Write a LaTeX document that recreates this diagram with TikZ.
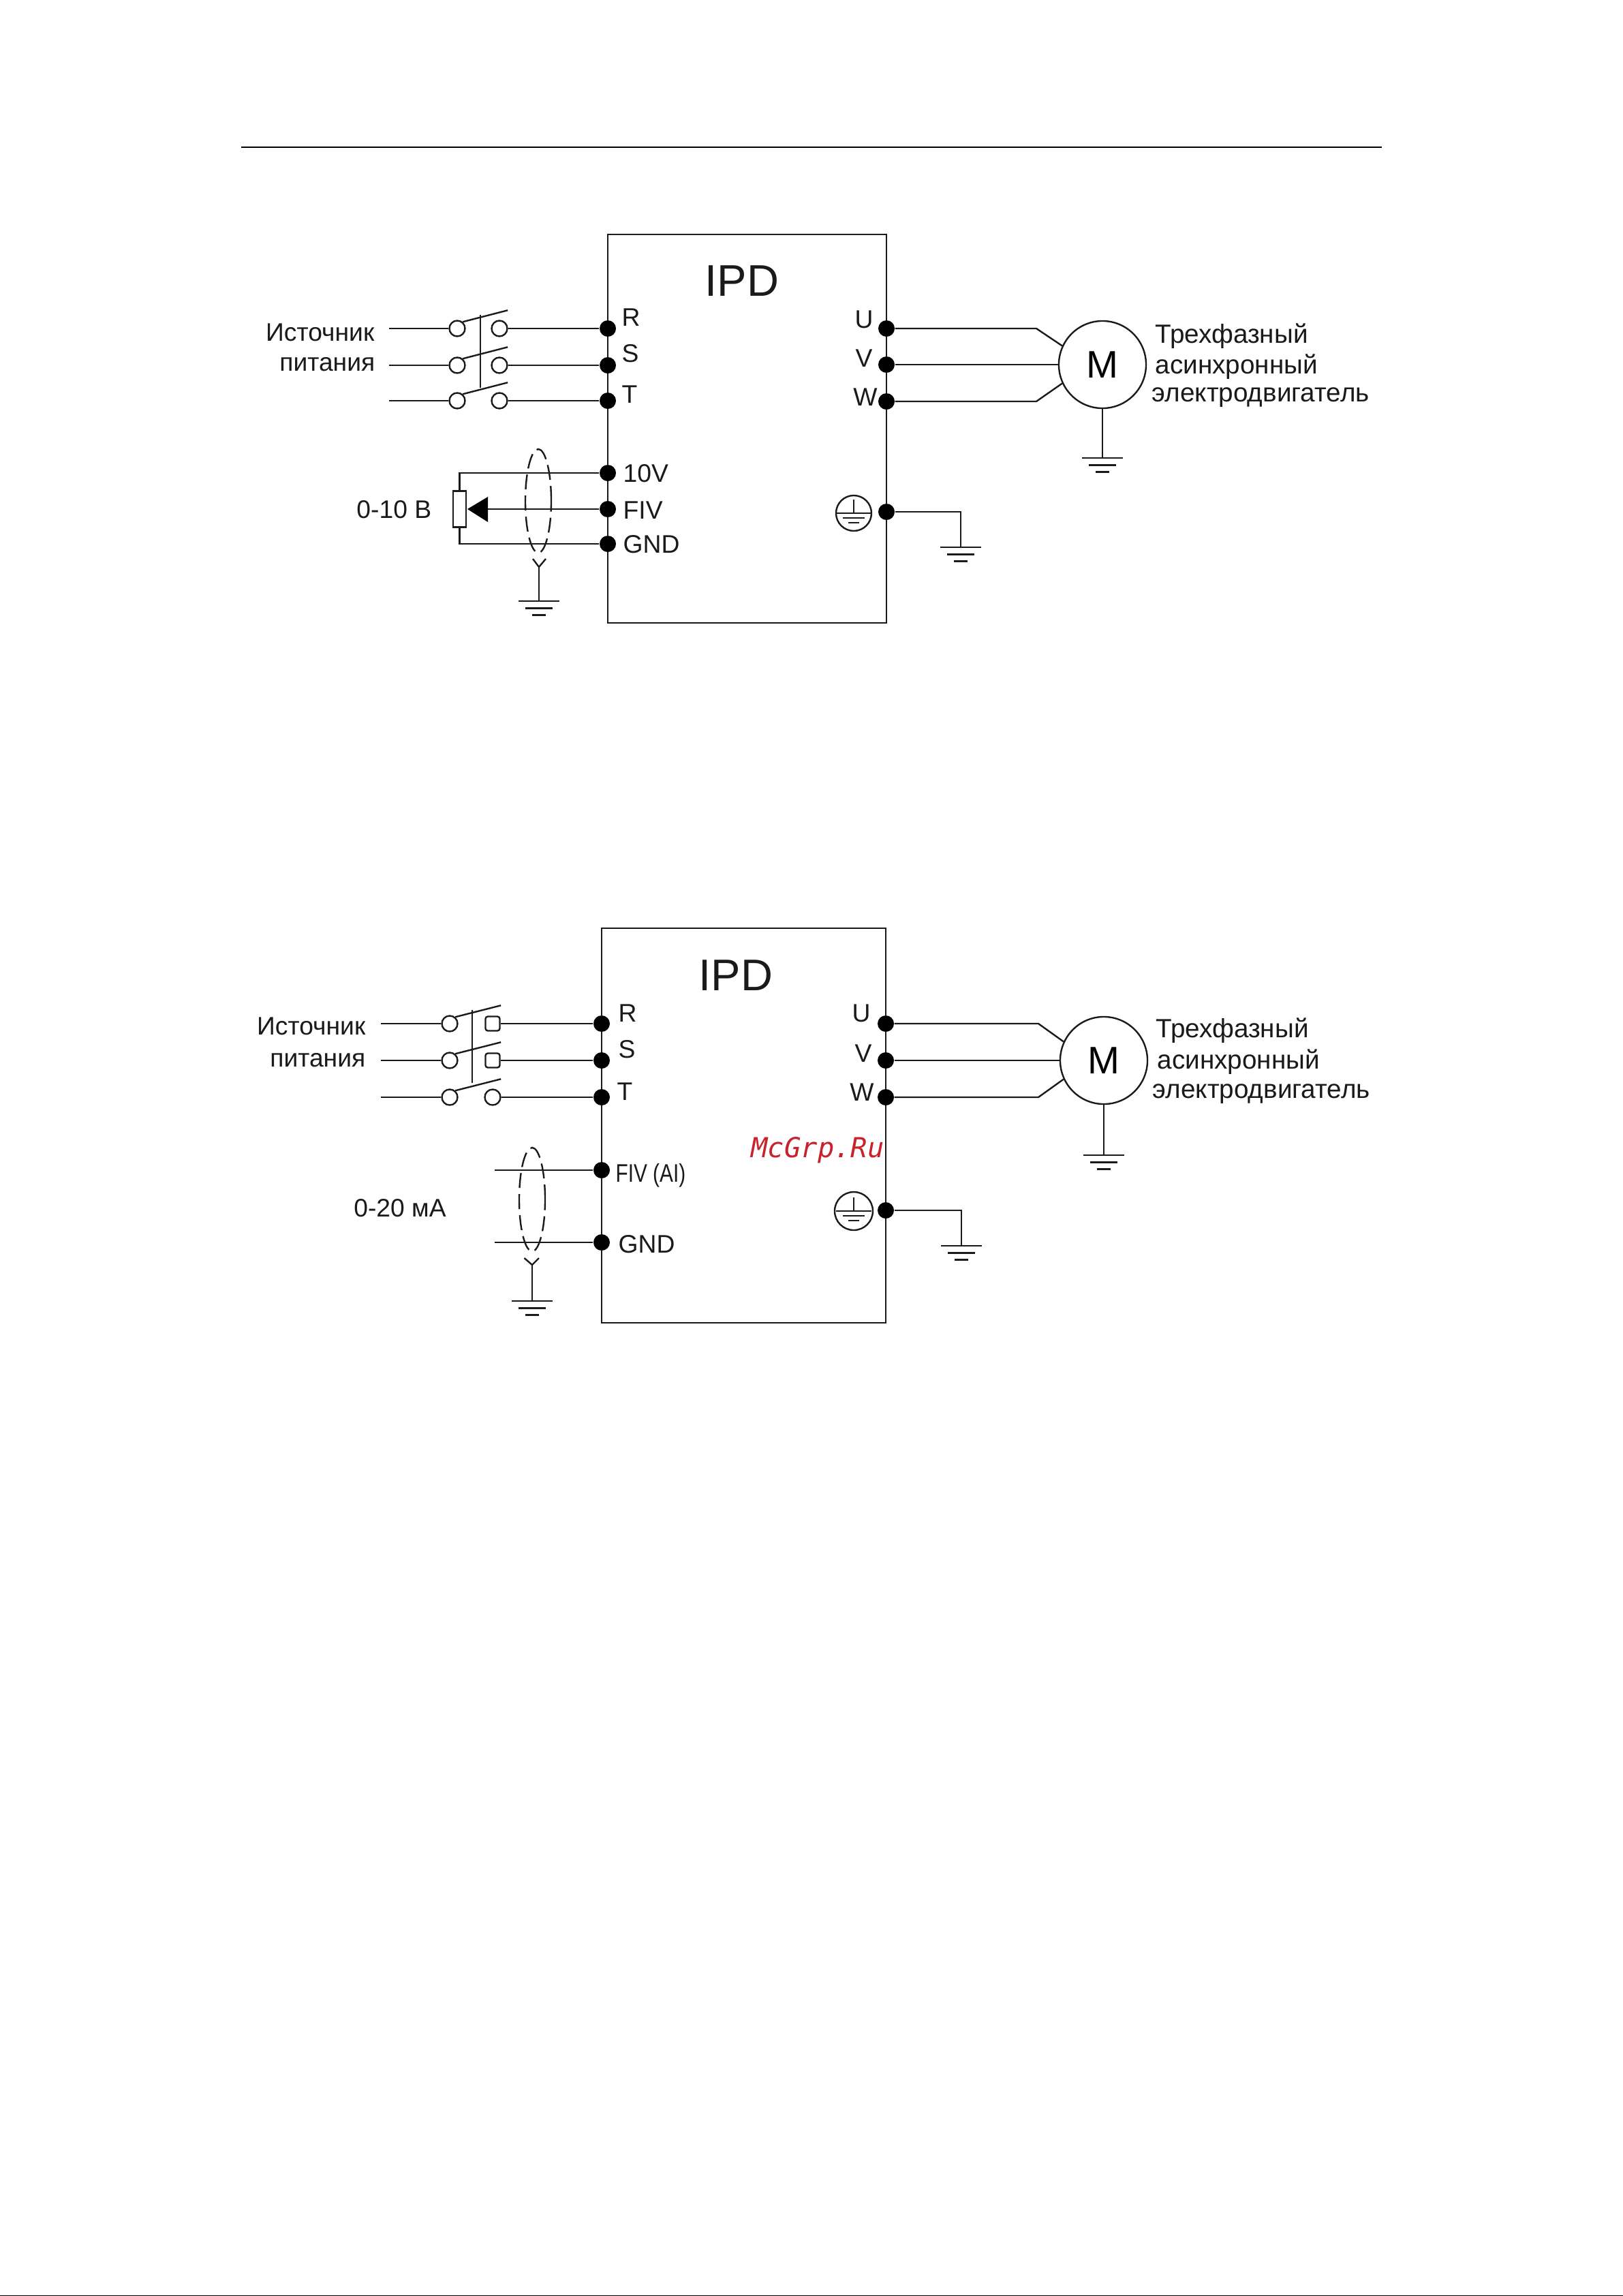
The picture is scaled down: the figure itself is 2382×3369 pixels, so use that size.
\documentclass[tikz,border=0pt]{standalone}
\usepackage{fontspec}
\setmainfont{Liberation Sans}
\newfontfamily\markfont{DejaVu Sans Mono}
\usetikzlibrary{calc,shapes.geometric}
\definecolor{inkgray}{HTML}{1A1A1A}
\definecolor{markred}{HTML}{C8232D}
\tikzset{
	wire/.style={draw=inkgray,line width=0.68pt},
	term/.style={circle,fill=black,inner sep=0pt,minimum size=0.24cm},
	contact/.style={circle,draw=inkgray,line width=0.68pt,fill=white,inner sep=0pt,minimum size=0.23cm},
	contactsq/.style={rectangle,rounded corners=1pt,draw=inkgray,line width=0.68pt,fill=white,inner sep=0pt,minimum size=0.21cm},
	motor/.style={circle,draw=inkgray,line width=0.68pt,inner sep=0pt,minimum size=1.28cm,font=\fontsize{16}{18}\selectfont},
	lab/.style={inner sep=0pt,text=inkgray,font=\fontsize{10.6}{12}\selectfont},
	motlab/.style={inner sep=0pt,text=inkgray,font=\fontsize{11}{13}\selectfont},
	title/.style={inner sep=0pt,text=inkgray,font=\fontsize{18.5}{22}\selectfont},
	shield/.style={ellipse,draw=inkgray,line width=0.68pt,dash pattern=on 0.22cm off 0.09cm,inner sep=0pt}
}
\def\ground(#1)% Syntax: (point at the top bar)
	{ \draw[wire] ($(#1)+(-30,0)$) -- ($(#1)+(30,0)$);
	  \draw[wire] ($(#1)+(-20,10.5)$) -- ($(#1)+(20,10.5)$);
	  \draw[wire] ($(#1)+(-10,20.5)$) -- ($(#1)+(10,20.5)$); }
\def\earthmark(#1:#2)% Syntax: (center:radius)
	{ \draw[wire] (#1) circle (#2);
	  \draw[wire] ($(#1)+(0,-20)$) -- (#1);
	  \draw[wire] ($(#1)+(-26,0)$) -- ($(#1)+(26,0)$);
	  \draw[wire] ($(#1)+(-16,7)$) -- ($(#1)+(16,7)$);
	  \draw[wire] ($(#1)+(-8,14)$) -- ($(#1)+(8,14)$); }
\begin{document}
\begin{tikzpicture}[x=0.01cm,y=-0.01cm]
	\useasboundingbox (0,0) rectangle (2382,3369);

	% page rules
	\coordinate (ruleL) at (354,216);
	\coordinate (ruleR) at (2028,216);
	\draw[draw=black,line width=0.55pt] (ruleL) -- (ruleR);
	\coordinate (edgeL) at (0,3368.6);
	\coordinate (edgeR) at (2382,3368.6);
	\draw[draw=black,line width=0.25pt] (edgeL) -- (edgeR);

	% ---- upper picture ----
	\draw[wire] (892,344) rectangle (1301,914);
	\node[title] (ipdA) at (1089,412) {IPD};

	\foreach \n/\y in {R/482,S/536,T/588,A/694,F/747,G/798}
		\node[term] (l\n A) at (892,\y) {};
	\foreach \n/\y in {U/482,V/535,W/589,E/751}
		\node[term] (r\n A) at (1301,\y) {};

	\node[lab,anchor=west] (tRA) at (912,466) {R};
	\node[lab,anchor=west] (tSA) at (912,519) {S};
	\node[lab,anchor=west] (tTA) at (912,579) {T};
	\node[lab,anchor=west] (t10A) at (914,695) {10V};
	\node[lab,anchor=west] (tFA) at (914,749) {FIV};
	\node[lab,anchor=west] (tGA) at (914,799) {GND};
	\node[lab] (tUA) at (1268,469) {U};
	\node[lab] (tVA) at (1268,526) {V};
	\node[lab] (tWA) at (1270,583) {W};

	% switch
	\node[lab,anchor=east] (srcA) at (550,488) {Источник};
	\node[lab,anchor=east] (srcB) at (551,535) {питания};
	\foreach \n/\y in {R/482,S/536,T/588}{
		\coordinate (in\n A) at (571,\y);
		\node[contact] (c\n A) at (671,\y) {};
		\node[contact] (d\n A) at (733,\y) {};
		\draw[wire] (in\n A) -- (c\n A);
		\draw[wire] (d\n A) -- (l\n A);
		\draw[wire] (c\n A.50) -- ++(66,-17);
	}
	\coordinate (tieAt) at (705,462);
	\coordinate (tieAb) at (705,569);
	\draw[wire] (tieAt) -- (tieAb);

	% potentiometer
	\node[draw=inkgray,line width=0.68pt,fill=white,inner sep=0pt,minimum width=0.19cm,minimum height=0.53cm] (potA) at (674.5,747) {};
	\node[lab,anchor=east] (rngA) at (634,748) {0-10 В};
	\coordinate (potAt) at (674.5,694);
	\coordinate (potAb) at (674.5,798);
	\coordinate (tipA) at (686,747);
	\coordinate (baseA) at (716,747);
	\draw[wire] (potA.north) -- (potAt) -- (lAA);
	\draw[wire] (potA.south) -- (potAb) -- (lGA);
	\draw[wire] (baseA) -- (lFA);
	\fill[black] (tipA) -- ($(baseA)+(0,-18)$) -- ($(baseA)+(0,19)$) -- cycle;

	% shield
	\node[shield,minimum width=0.38cm,minimum height=1.52cm] (shA) at (790,735) {};
	\coordinate (forkA) at (791,832);
	\coordinate (gndA) at (791,882);
	\draw[wire] (782,820) -- (forkA) -- (801,820);
	\draw[wire] (forkA) -- (gndA);
	\ground(gndA)

	% motor
	\node[motor] (motA) at (1618,535) {M};
	\coordinate (kneeUA) at (1521,482);
	\coordinate (kneeWA) at (1521,589);
	\draw[wire] (rUA) -- (kneeUA) -- (motA.155);
	\draw[wire] (rVA) -- (motA.west);
	\draw[wire] (rWA) -- (kneeWA) -- (motA.205);
	\coordinate (gndB) at (1618,672);
	\draw[wire] (motA.south) -- (gndB);
	\ground(gndB)
	\node[motlab,anchor=west] (mtA) at (1695,493) {Трехфазный};
	\node[motlab,anchor=west] (mtB) at (1695,538) {асинхронный};
	\node[motlab,anchor=west] (mtC) at (1690,583) {электродвигатель};

	% earth
	\coordinate (emA) at (1253,753);
	\earthmark(emA:26)
	\coordinate (kneeEA) at (1410,751);
	\coordinate (gndC) at (1410,803);
	\draw[wire] (rEA) -- (kneeEA) -- (gndC);
	\ground(gndC)

	% ---- lower picture ----
	\draw[wire] (883,1362) rectangle (1300,1941);
	\node[title] (ipdB) at (1080,1431) {IPD};

	\foreach \n/\y in {R/1502,S/1556,T/1610,F/1717,G/1823}
		\node[term] (l\n B) at (883,\y) {};
	\foreach \n/\y in {U/1502,V/1556,W/1610,E/1776}
		\node[term] (r\n B) at (1300,\y) {};

	\node[lab,anchor=west] (tRB) at (907,1487) {R};
	\node[lab,anchor=west] (tSB) at (907,1540) {S};
	\node[lab,anchor=west] (tTB) at (905,1602) {T};
	\node[lab,anchor=west,xscale=0.8] (tFB) at (903,1725) {FIV (AI)};
	\node[lab,anchor=west] (tGB) at (907,1826) {GND};
	\node[lab] (tUB) at (1264,1487) {U};
	\node[lab] (tVB) at (1267,1546) {V};
	\node[lab] (tWB) at (1265,1603) {W};

	% switch
	\node[lab,anchor=east] (srcC) at (537,1506) {Источник};
	\node[lab,anchor=east] (srcD) at (537,1556) {питания};
	\foreach \n/\y/\k in {R/1502/contactsq,S/1556/contactsq,T/1610/contact}{
		\coordinate (in\n B) at (559,\y);
		\node[contact] (c\n B) at (660,\y) {};
		\node[\k] (d\n B) at (723,\y) {};
		\draw[wire] (in\n B) -- (c\n B);
		\draw[wire] (d\n B) -- (l\n B);
		\draw[wire] (c\n B.50) -- ++(67,-17);
	}
	\coordinate (tieBt) at (693,1482);
	\coordinate (tieBb) at (693,1589);
	\draw[wire] (tieBt) -- (tieBb);

	% current input
	\coordinate (inFB) at (726,1717);
	\coordinate (inGB) at (726,1823);
	\draw[wire] (inFB) -- (lFB);
	\draw[wire] (inGB) -- (lGB);
	\node[lab] (rngB) at (587,1773) {0-20 мА};

	% shield
	\node[shield,minimum width=0.38cm,minimum height=1.52cm] (shB) at (781,1760) {};
	\coordinate (forkB) at (781,1856);
	\coordinate (gndD) at (781,1909);
	\draw[wire] (769.5,1846) -- (forkB) -- (791,1846);
	\draw[wire] (forkB) -- (gndD);
	\ground(gndD)

	% motor
	\node[motor] (motB) at (1620,1556) {M};
	\coordinate (kneeUB) at (1524,1502);
	\coordinate (kneeWB) at (1524,1610);
	\draw[wire] (rUB) -- (kneeUB) -- (motB.155);
	\draw[wire] (rVB) -- (motB.west);
	\draw[wire] (rWB) -- (kneeWB) -- (motB.205);
	\coordinate (gndE) at (1620,1695);
	\draw[wire] (motB.south) -- (gndE);
	\ground(gndE)
	\node[motlab,anchor=west] (mtD) at (1696,1512) {Трехфазный};
	\node[motlab,anchor=west] (mtE) at (1698,1558) {асинхронный};
	\node[motlab,anchor=west] (mtF) at (1691,1605) {электродвигатель};

	% earth
	\coordinate (emB) at (1253,1777);
	\earthmark(emB:28)
	\coordinate (kneeEB) at (1411,1776);
	\coordinate (gndF) at (1411,1828);
	\draw[wire] (rEB) -- (kneeEB) -- (gndF);
	\ground(gndF)

	\node[inner sep=0pt,text=markred,font=\markfont\itshape\fontsize{11.5}{13}\selectfont] (mark) at (1200,1688) {McGrp.Ru};
\end{tikzpicture}
\end{document}
